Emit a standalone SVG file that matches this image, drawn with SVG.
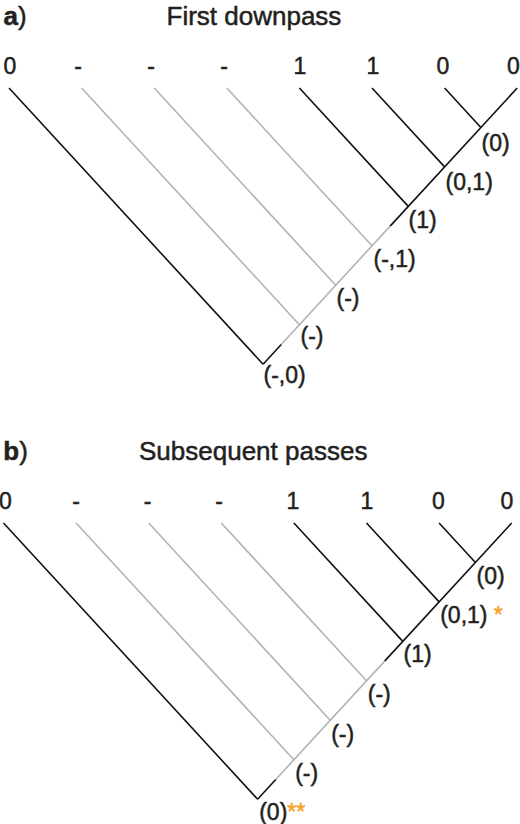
<svg xmlns="http://www.w3.org/2000/svg" width="520" height="824" viewBox="0 0 520 824">
<style>
text{font-family:"Liberation Sans",Arial,sans-serif;fill:#231f20;stroke:#231f20;stroke-width:0.5}
.t{font-size:26px}
.l{font-size:23px}
.lf{font-size:23px;text-anchor:middle}
.k{stroke:#111;stroke-width:1.6;fill:none;stroke-linecap:butt}
.g{stroke:#b3b3b3;stroke-width:1.6;fill:none}
.o{fill:#f5a326;stroke:#f5a326}
</style>
<rect width="520" height="824" fill="#fff"/>
<g id="title-a"><text class="t" x="3.5" y="25"><tspan font-weight="bold">a</tspan>)</text><text class="t" x="166.5" y="25">First downpass</text></g>
<g id="title-b"><text class="t" x="3.3" y="460"><tspan font-weight="bold">b</tspan>)</text><text class="t" x="139" y="460">Subsequent passes</text></g>

<g id="connectors">
<!-- tree a -->
<line class="k" x1="9" y1="88" x2="263.1" y2="364.2"/>
<line class="g" x1="81.6" y1="88" x2="299.4" y2="324.75"/>
<line class="g" x1="154.2" y1="88" x2="335.7" y2="285.3"/>
<line class="g" x1="226.8" y1="88" x2="372" y2="245.8"/>
<line class="k" x1="299.4" y1="88" x2="408.3" y2="206.4"/>
<line class="k" x1="372" y1="88" x2="444.6" y2="166.9"/>
<line class="k" x1="444.6" y1="88" x2="480.9" y2="127.5"/>
<line class="k" x1="517.2" y1="88" x2="390.15" y2="226.1"/>
<line class="g" x1="390.15" y1="226.1" x2="281.25" y2="344.5"/>
<line class="k" x1="281.25" y1="344.5" x2="263.1" y2="364.2"/>
<!-- tree b -->
<line class="k" x1="3.5" y1="523" x2="257.6" y2="799.2"/>
<line class="g" x1="76.1" y1="523" x2="293.9" y2="759.75"/>
<line class="g" x1="148.7" y1="523" x2="330.2" y2="720.3"/>
<line class="g" x1="221.3" y1="523" x2="366.5" y2="680.8"/>
<line class="k" x1="293.9" y1="523" x2="402.8" y2="641.4"/>
<line class="k" x1="366.5" y1="523" x2="439.1" y2="601.9"/>
<line class="k" x1="439.1" y1="523" x2="475.4" y2="562.5"/>
<line class="k" x1="511.7" y1="523" x2="384.65" y2="661.1"/>
<line class="g" x1="384.65" y1="661.1" x2="275.75" y2="779.5"/>
<line class="k" x1="275.75" y1="779.5" x2="257.6" y2="799.2"/>
</g>

<!-- tree a leaves -->
<g id="a-leaf1"><text class="lf" x="10" y="74">0</text></g>
<g id="a-leaf2"><text class="lf" x="78" y="74">-</text></g>
<g id="a-leaf3"><text class="lf" x="151" y="74">-</text></g>
<g id="a-leaf4"><text class="lf" x="224" y="74">-</text></g>
<g id="a-leaf5"><text class="lf" x="300" y="74">1</text></g>
<g id="a-leaf6"><text class="lf" x="373" y="74">1</text></g>
<g id="a-leaf7"><text class="lf" x="443" y="74">0</text></g>
<g id="a-leaf8"><text class="lf" x="513.5" y="74">0</text></g>
<!-- tree a internal nodes -->
<g id="a-n7"><text class="l" x="481.5" y="151">(0)</text></g>
<g id="a-n6"><text class="l" x="445.5" y="190">(0,1)</text></g>
<g id="a-n5"><text class="l" x="408.5" y="228.4">(1)</text></g>
<g id="a-n4"><text class="l" x="373.5" y="266.5">(-,1)</text></g>
<g id="a-n3"><text class="l" x="336.5" y="305.5">(-)</text></g>
<g id="a-n2"><text class="l" x="300.5" y="344.3">(-)</text></g>
<g id="a-n1"><text class="l" x="263.5" y="383">(-,0)</text></g>

<!-- tree b leaves -->
<g id="b-leaf1"><text class="lf" x="5.5" y="509">0</text></g>
<g id="b-leaf2"><text class="lf" x="76" y="509">-</text></g>
<g id="b-leaf3"><text class="lf" x="147.5" y="509">-</text></g>
<g id="b-leaf4"><text class="lf" x="219" y="509">-</text></g>
<g id="b-leaf5"><text class="lf" x="293" y="509">1</text></g>
<g id="b-leaf6"><text class="lf" x="367" y="509">1</text></g>
<g id="b-leaf7"><text class="lf" x="438.5" y="509">0</text></g>
<g id="b-leaf8"><text class="lf" x="507" y="509">0</text></g>
<!-- tree b internal nodes -->
<g id="b-n7"><text class="l" x="476.5" y="584">(0)</text></g>
<g id="b-n6"><text class="l" x="440.2" y="623">(0,1)<tspan class="o"> *</tspan></text></g>
<g id="b-n5"><text class="l" x="403.5" y="661.8">(1)</text></g>
<g id="b-n4"><text class="l" x="367.8" y="702">(-)</text></g>
<g id="b-n3"><text class="l" x="331.2" y="741.5">(-)</text></g>
<g id="b-n2"><text class="l" x="295.2" y="781.3">(-)</text></g>
<g id="b-n1"><text class="l" x="259.2" y="819.5">(0)<tspan class="o">**</tspan></text></g>
</svg>
